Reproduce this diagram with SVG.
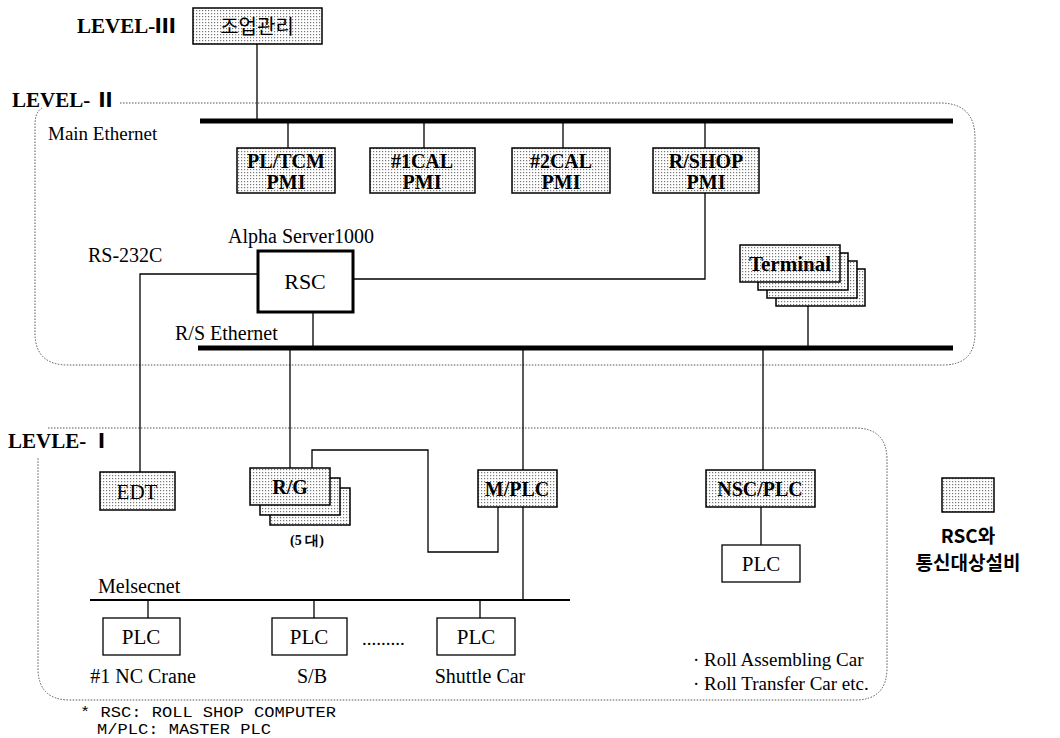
<svg xmlns="http://www.w3.org/2000/svg" width="1060" height="738" viewBox="0 0 1060 738">
<defs>
<pattern id="dots" width="3" height="3" patternUnits="userSpaceOnUse">
<rect width="3" height="3" fill="#ffffff"/>
<rect x="1" y="1" width="1.2" height="1.2" fill="#777"/>
</pattern>
<style>
.sh{fill:url(#dots);stroke:#000;stroke-width:1.5}
.wb{fill:#fff;stroke:#000;stroke-width:1.3}
.ln{fill:none;stroke:#000;stroke-width:1.3}
.bus{fill:none;stroke:#000;stroke-width:5}
.thin{fill:none;stroke:#000;stroke-width:2}
.zone{fill:none;stroke:#555;stroke-width:1;stroke-dasharray:1.5 1.5}
.lvl{font-family:"Liberation Serif",serif;font-weight:bold;font-size:21px;fill:#000}
.rn{font-family:"Noto Sans CJK KR","DejaVu Serif",serif;font-weight:900;font-size:20px}
.bx{font-family:"Liberation Serif",serif;font-weight:bold;font-size:20px;fill:#000;text-anchor:middle}
.bn{font-family:"Liberation Serif",serif;font-size:21px;fill:#000;text-anchor:middle}
.tx{font-family:"Liberation Serif",serif;font-size:19px;fill:#000}
.txm{font-family:"Liberation Serif",serif;font-size:19px;fill:#000;text-anchor:middle}
.kr{font-family:"Noto Sans CJK KR",sans-serif;font-weight:bold;fill:#000;text-anchor:middle}
.mono{font-family:"Liberation Mono",monospace;font-size:15px;fill:#000}
</style>
</defs>
<rect width="1060" height="738" fill="#fff"/>

<g id="zones">
<path class="zone" d="M120,103 H940 Q975,103 975,138 V333 Q975,365 943,365 H68 Q35,365 35,333 V125 Q35,112 42,108"/>
<path class="zone" d="M48,428 H855 Q887,428 887,460 V668 Q887,700 855,700 H70 Q38,700 38,668 V458"/>
</g>

<g id="connectors">
<line class="bus" x1="200" y1="121" x2="953" y2="121"/>
<line class="bus" x1="198" y1="348" x2="953" y2="348"/>
<line class="thin" x1="90" y1="600" x2="570" y2="600"/>
<path class="ln" d="M257,44 V121"/>
<path class="ln" d="M288,121 V148"/>
<path class="ln" d="M424,121 V148"/>
<path class="ln" d="M563,121 V148"/>
<path class="ln" d="M705,121 V148"/>
<path class="ln" d="M258,274 H140 V472"/>
<path class="ln" d="M353,279 H705 V193"/>
<path class="ln" d="M313,312 V348"/>
<path class="ln" d="M808,306 V348"/>
<path class="ln" d="M290,348 V468"/>
<path class="ln" d="M523,348 V600"/>
<path class="ln" d="M312,468 V450 H428 V552 H498 V507"/>
<path class="ln" d="M763,348 V470"/>
<path class="ln" d="M761,507 V545"/>
<path class="ln" d="M148,600 V618"/>
<path class="ln" d="M314,600 V618"/>
<path class="ln" d="M480,600 V618"/>
</g>

<g id="level3-label"><text class="lvl" x="77" y="33">LEVEL-<tspan class="rn">Ⅲ</tspan></text></g>
<g id="level2-label"><text class="lvl" x="12" y="107">LEVEL- <tspan class="rn">Ⅱ</tspan></text></g>
<g id="level1-label"><text class="lvl" x="8" y="448">LEVLE- <tspan class="rn">Ⅰ</tspan></text></g>

<g id="mgmt">
<rect class="sh" x="193" y="8" width="129" height="36"/>
<text class="kr" x="257" y="34" style="font-size:20px;font-weight:normal">조업관리</text>
</g>

<g id="main-ethernet-label"><text class="tx" x="48" y="140">Main Ethernet</text></g>

<g id="pltcm">
<rect class="sh" x="237" y="148" width="98" height="45"/>
<text class="bx" x="286" y="168">PL/TCM</text>
<text class="bx" x="286" y="189">PMI</text>
</g>
<g id="cal1">
<rect class="sh" x="370" y="148" width="105" height="45"/>
<text class="bx" x="422" y="168">#1CAL</text>
<text class="bx" x="422" y="189">PMI</text>
</g>
<g id="cal2">
<rect class="sh" x="512" y="148" width="98" height="45"/>
<text class="bx" x="561" y="168">#2CAL</text>
<text class="bx" x="561" y="189">PMI</text>
</g>
<g id="rshop">
<rect class="sh" x="653" y="148" width="106" height="45"/>
<text class="bx" x="706" y="168">R/SHOP</text>
<text class="bx" x="706" y="189">PMI</text>
</g>

<g id="alpha-label"><text class="tx" x="228" y="243" style="font-size:20px">Alpha Server1000</text></g>
<g id="rs232-label"><text class="tx" x="88" y="262" style="font-size:20px">RS-232C</text></g>

<g id="rsc">
<rect x="258" y="251" width="95" height="61" fill="#fff" stroke="#000" stroke-width="3"/>
<text class="bn" x="305" y="289" style="font-size:22px">RSC</text>
</g>

<g id="rs-ethernet-label"><text class="tx" x="175" y="340" style="font-size:20px">R/S Ethernet</text></g>

<g id="terminal">
<rect class="sh" x="776" y="269" width="89" height="37"/>
<rect class="sh" x="767" y="261" width="90" height="37"/>
<rect class="sh" x="758" y="253" width="90" height="37"/>
<rect class="sh" x="740" y="245" width="100" height="37"/>
<text class="bx" x="790" y="271" style="font-size:21px">Terminal</text>
</g>

<g id="edt">
<rect class="sh" x="100" y="472" width="75" height="38"/>
<text class="bn" x="137" y="499">EDT</text>
</g>

<g id="rg">
<rect class="sh" x="270" y="488" width="80" height="37"/>
<rect class="sh" x="260" y="478" width="80" height="37"/>
<rect class="sh" x="250" y="468" width="80" height="37"/>
<text class="bx" x="290" y="494">R/G</text>
<text class="bx" x="307" y="545" style="font-size:14px">(5 대)</text>
</g>

<g id="mplc">
<rect class="sh" x="478" y="470" width="79" height="37"/>
<text class="bx" x="517" y="496">M/PLC</text>
</g>

<g id="nscplc">
<rect class="sh" x="706" y="470" width="109" height="37"/>
<text class="bx" x="760" y="496">NSC/PLC</text>
</g>

<g id="plc-nsc">
<rect class="wb" x="722" y="545" width="78" height="37"/>
<text class="bn" x="761" y="571">PLC</text>
</g>

<g id="melsecnet-label"><text class="tx" x="98" y="593" style="font-size:20px">Melsecnet</text></g>

<g id="plc1">
<rect class="wb" x="103" y="618" width="77" height="37"/>
<text class="bn" x="141" y="644">PLC</text>
<text class="txm" x="143" y="683" style="font-size:20px">#1 NC Crane</text>
</g>
<g id="plc2">
<rect class="wb" x="272" y="618" width="75" height="37"/>
<text class="bn" x="309" y="644">PLC</text>
<text class="txm" x="312" y="683" style="font-size:20px">S/B</text>
</g>
<g id="dots-text"><text class="tx" x="362" y="645">.........</text></g>
<g id="plc3">
<rect class="wb" x="437" y="618" width="78" height="37"/>
<text class="bn" x="476" y="644">PLC</text>
<text class="txm" x="480" y="683" style="font-size:20px">Shuttle Car</text>
</g>

<g id="roll-notes">
<text class="tx" x="693" y="666" style="font-size:19px">· Roll Assembling Car</text>
<text class="tx" x="693" y="690" style="font-size:19px">· Roll Transfer Car  etc.</text>
</g>

<g id="legend">
<rect class="sh" x="942" y="478" width="52" height="34"/>
<text class="kr" x="968" y="543" style="font-size:19px">RSC와</text>
<text class="kr" x="968" y="570" style="font-size:19px">통신대상설비</text>
</g>

<g id="footnote">
<text class="mono" x="80" y="717" textLength="256" lengthAdjust="spacingAndGlyphs">* RSC: ROLL SHOP COMPUTER</text>
<text class="mono" x="97" y="734" textLength="174" lengthAdjust="spacingAndGlyphs">M/PLC: MASTER PLC</text>
</g>
</svg>
